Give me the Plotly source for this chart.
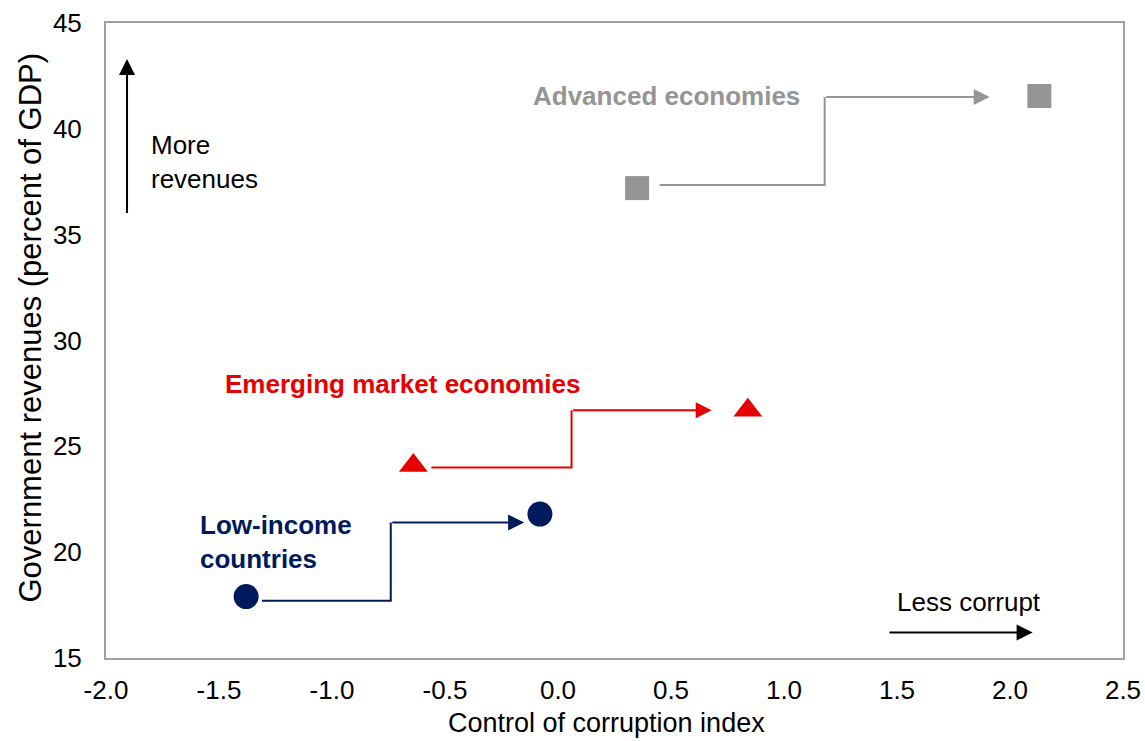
import plotly.graph_objects as go

# Data (control of corruption index, government revenues % GDP)
groups = ["Low-income countries", "Emerging market economies", "Advanced economies"]
lic_x = [-1.38, -0.08]
lic_y = [17.9, 21.8]
em_x = [-0.64, 0.84]
em_y = [24.1, 26.7]
ae_x = [0.35, 2.13]
ae_y = [37.2, 41.55]

# Elbow connector paths (start, corner x, end)
lic_path_x = [-1.31, -0.74, -0.74, -0.15]
lic_path_y = [17.7, 17.7, 21.4, 21.4]
em_path_x = [-0.56, 0.06, 0.06, 0.68]
em_path_y = [24.0, 24.0, 26.7, 26.7]
ae_path_x = [0.45, 1.18, 1.18, 1.91]
ae_path_y = [37.35, 37.35, 41.5, 41.5]

x_ticks = [-2.0, -1.5, -1.0, -0.5, 0.0, 0.5, 1.0, 1.5, 2.0, 2.5]
y_ticks = [15, 20, 25, 30, 35, 40, 45]

NAVY = "#001a5e"
RED = "#e60000"
GRAY = "#959595"
FONT = "Liberation Sans, Arial, sans-serif"

fig = go.Figure()

for px, py, col in [(lic_path_x, lic_path_y, NAVY), (em_path_x, em_path_y, RED), (ae_path_x, ae_path_y, GRAY)]:
    fig.add_trace(go.Scatter(x=px[:-1], y=py[:-1], mode="lines",
                             line=dict(color=col, width=2), hoverinfo="skip", showlegend=False))
    fig.add_annotation(x=px[-1], y=py[-1], ax=px[-2], ay=py[-2], xref="x", yref="y",
                       axref="x", ayref="y", text="", showarrow=True, arrowhead=2,
                       arrowsize=1.6, arrowwidth=2, arrowcolor=col, standoff=0)

fig.add_trace(go.Scatter(x=lic_x, y=lic_y, mode="markers", name=groups[0],
                         marker=dict(symbol="circle", size=25, color=NAVY), showlegend=False))
fig.add_trace(go.Scatter(x=em_x, y=em_y, mode="markers", name=groups[1],
                         marker=dict(symbol="triangle-up", size=25, color=RED), showlegend=False))
fig.add_trace(go.Scatter(x=ae_x, y=ae_y, mode="markers", name=groups[2],
                         marker=dict(symbol="square", size=24, color=GRAY), showlegend=False))

# Direction arrows
fig.add_annotation(x=-1.907, y=43.3, ax=-1.907, ay=35.95, xref="x", yref="y", axref="x", ayref="y",
                   text="", showarrow=True, arrowhead=2, arrowsize=1.6, arrowwidth=2,
                   arrowcolor="black", standoff=0)
fig.add_annotation(x=2.1, y=16.2, ax=1.46, ay=16.2, xref="x", yref="y", axref="x", ayref="y",
                   text="", showarrow=True, arrowhead=2, arrowsize=1.6, arrowwidth=2,
                   arrowcolor="black", standoff=0)

# Text labels
fig.add_annotation(x=-1.81, y=38.45, text="More<br>revenues", showarrow=False, xanchor="left",
                   align="left", font=dict(family=FONT, size=26, color="black"))
fig.add_annotation(x=1.82, y=17.65, text="Less corrupt", showarrow=False,
                   font=dict(family=FONT, size=26, color="black"))
fig.add_annotation(x=0.48, y=41.55, text="<b>Advanced economies</b>", showarrow=False,
                   font=dict(family=FONT, size=26, color=GRAY))
fig.add_annotation(x=-0.69, y=27.95, text="<b>Emerging market economies</b>", showarrow=False,
                   font=dict(family=FONT, size=26, color=RED))
fig.add_annotation(x=-1.595, y=20.5, text="<b>Low-income<br>countries</b>", showarrow=False,
                   xanchor="left", align="left", font=dict(family=FONT, size=26, color=NAVY))

# Axis titles
fig.add_annotation(xref="paper", yref="paper", x=-0.074, y=0.52, xanchor="center", yanchor="middle",
                   text="Government revenues (percent of GDP)", textangle=-90, showarrow=False,
                   font=dict(family=FONT, size=31, color="black"))
fig.add_annotation(xref="paper", yref="paper", x=0.492, y=-0.102, xanchor="center", yanchor="middle",
                   text="Control of corruption index", showarrow=False,
                   font=dict(family=FONT, size=27, color="black"))

fig.update_layout(
    width=1145, height=741,
    margin=dict(l=106, r=22, t=23, b=83),
    paper_bgcolor="white", plot_bgcolor="white",
    font=dict(family=FONT, size=26, color="black"),
    showlegend=False,
)
fig.update_xaxes(range=[-2.0, 2.5], tickvals=x_ticks, ticktext=[f"{v:.1f}" for v in x_ticks],
                 showgrid=False, zeroline=False, showline=True, linecolor="#a0a0a0", linewidth=2,
                 mirror=True, ticks="", automargin=False, ticklabelstandoff=8,
                 tickfont=dict(size=26))
fig.update_yaxes(range=[15, 45], tickvals=y_ticks, showgrid=False, zeroline=False, showline=True,
                 linecolor="#a0a0a0", linewidth=2, mirror=True, ticks="", automargin=False,
                 ticklabelstandoff=17, tickfont=dict(size=26))

# remove the default 8px page margin so the figure fills the window exactly
fig.write_html("out.html", config={"displayModeBar": False},
               post_script="document.body.style.margin='0';document.body.style.overflow='hidden';")
